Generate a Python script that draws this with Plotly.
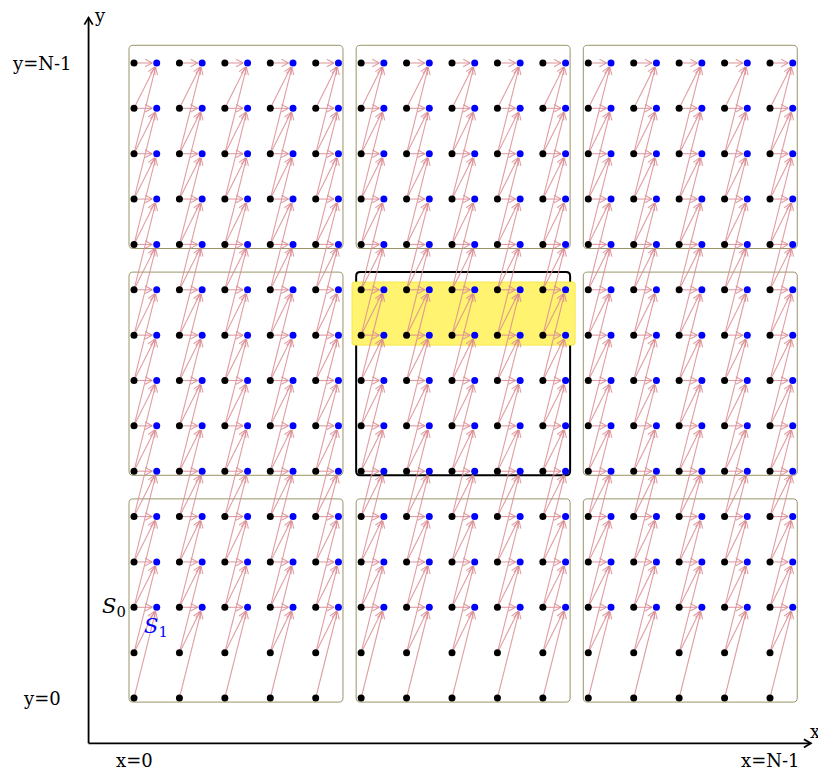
import numpy as np
import plotly.graph_objects as go

# ---- data (grid structure) ----
n_blocks = 3
block_size = 5
grid_cols = list(range(15))          # x index 0 .. N-1
grid_rows = list(range(15))          # y index 0 .. N-1
blue_offset = 0.5                    # S1 points sit half a step to the right
first_blue_row = 2                   # S1 exists from row 2 upward
stencil_offsets = [0, 1, 2]          # each S1 point depends on rows j, j-1, j-2
highlight_block = (1, 1)             # centre block
highlight_rows = [8, 9]              # highlighted rows inside the centre block
axis_labels_y = ["y=0", "y=N-1"]
axis_labels_x = ["x=0", "x=N-1"]

# ---- layout / scale ----
W, H = 818, 771
SX = (770 - 134) / 14.0
SY = (698 - 63) / 14.0
xr = [(0 - 134) / SX, (W - 134) / SX]
yr = [(698 - H) / SY, (698 - 0) / SY]

ARROW_COL = "rgba(218,140,146,0.85)"
FONT = "DejaVu Serif"

fig = go.Figure()

def rounded_rect(x0, y0, x1, y1, r=0.09):
    ry = r * SX / SY
    return (f"M {x0+r},{y0} L {x1-r},{y0} Q {x1},{y0} {x1},{y0+ry} "
            f"L {x1},{y1-ry} Q {x1},{y1} {x1-r},{y1} L {x0+r},{y1} "
            f"Q {x0},{y1} {x0},{y1-ry} L {x0},{y0+ry} Q {x0},{y0} {x0+r},{y0} Z")

shapes = []
for bx in range(n_blocks):
    for by in range(n_blocks):
        i0 = bx * block_size
        j0 = by * block_size
        x0, x1 = i0 - 0.11, i0 + block_size - 1 + blue_offset + 0.1
        y0, y1 = j0 - 0.09, j0 + block_size - 1 + 0.39
        centre = (bx, by) == highlight_block
        shapes.append(dict(type="path", path=rounded_rect(x0, y0, x1, y1),
                           line=dict(color="black" if centre else "#9b9468",
                                     width=2 if centre else 1),
                           layer="below"))
# yellow highlight
hi0 = highlight_block[0] * block_size
shapes.append(dict(type="path",
                   path=rounded_rect(hi0 - 0.2, min(highlight_rows) - 0.22,
                                     hi0 + block_size - 1 + blue_offset + 0.21,
                                     max(highlight_rows) + 0.17, r=0.05),
                   fillcolor="#fff370", line=dict(color="#f5e64a", width=1),
                   layer="below"))

# ---- arrows ----
def to_px(dx, dy):
    return dx * SX, dy * SY

sh_x, sh_y, hd_x, hd_y = [], [], [], []
shorten = 4.5
head_len, head_ang = 8.0, np.deg2rad(28)
for i in grid_cols:
    for j in grid_rows:
        if j < first_blue_row:
            continue
        tx, ty = i + blue_offset, j
        for d in stencil_offsets:
            sx, sy = i, j - d
            px, py = to_px(tx - sx, ty - sy)
            L = np.hypot(px, py)
            ux, uy = px / L, py / L
            tipx = tx - shorten * ux / SX
            tipy = ty - shorten * uy / SY
            sh_x += [sx, tipx, None]
            sh_y += [sy, tipy, None]
            for s in (1, -1):
                ca, sa = np.cos(s * head_ang), np.sin(s * head_ang)
                rx = ux * ca - uy * sa
                ry = ux * sa + uy * ca
                hd_x += [tipx - head_len * rx / SX, tipx, None]
                hd_y += [tipy - head_len * ry / SY, tipy, None]

fig.add_trace(go.Scatter(x=sh_x, y=sh_y, mode="lines",
                         line=dict(color=ARROW_COL, width=1.1), hoverinfo="skip"))
fig.add_trace(go.Scatter(x=hd_x, y=hd_y, mode="lines",
                         line=dict(color=ARROW_COL, width=1.1), hoverinfo="skip"))

# ---- points ----
bx_pts = [i for i in grid_cols for j in grid_rows]
by_pts = [j for i in grid_cols for j in grid_rows]
fig.add_trace(go.Scatter(x=bx_pts, y=by_pts, mode="markers",
                         marker=dict(color="black", size=7), hoverinfo="skip"))
bl_x = [i + blue_offset for i in grid_cols for j in grid_rows if j >= first_blue_row]
bl_y = [j for i in grid_cols for j in grid_rows if j >= first_blue_row]
fig.add_trace(go.Scatter(x=bl_x, y=bl_y, mode="markers",
                         marker=dict(color="blue", size=7), hoverinfo="skip"))

# ---- axes ----
ax0 = -1.0
ytop = grid_rows[-1] + 1.0
xend = grid_cols[-1] + 0.9
fig.add_trace(go.Scatter(x=[ax0, ax0, None, ax0, xend], y=[ytop, ax0, None, ax0, ax0],
                         mode="lines", line=dict(color="black", width=1.8),
                         hoverinfo="skip"))
ah = 7.0
fig.add_trace(go.Scatter(
    x=[ax0 - ah * 0.6 / SX, ax0, ax0 + ah * 0.6 / SX, None,
       xend - ah / SX, xend, xend - ah / SX],
    y=[ytop - ah / SY, ytop, ytop - ah / SY, None,
       ax0 + ah * 0.6 / SY, ax0, ax0 - ah * 0.6 / SY],
    mode="lines", line=dict(color="black", width=1.8), hoverinfo="skip"))

ann = []
def txt(x, y, t, size=18, color="black", xanchor="center"):
    ann.append(dict(x=x, y=y, xref="x", yref="y", text=t, showarrow=False,
                    font=dict(family=FONT, size=size, color=color),
                    xanchor=xanchor, yanchor="middle"))

txt((42 - 134) / SX, grid_rows[0], axis_labels_y[0])
txt((42 - 134) / SX, grid_rows[-1], axis_labels_y[1])
txt(grid_cols[0], (698 - 760) / SY, axis_labels_x[0])
txt(grid_cols[-1], (698 - 760) / SY, axis_labels_x[1])
txt(ax0 + 3 / SX, (698 - 15) / SY, "y", xanchor="left")
txt(xend - 3 / SX, (698 - 731) / SY, "x", xanchor="left")
txt((114 - 134) / SX, first_blue_row, "<i>S</i><sub>0</sub>", size=21)
txt((156 - 134) / SX, first_blue_row - 20 / SY, "<i>S</i><sub>1</sub>", size=21, color="blue")

fig.update_layout(
    width=W, height=H, margin=dict(l=0, r=0, t=0, b=0),
    paper_bgcolor="white", plot_bgcolor="white", showlegend=False,
    xaxis=dict(range=xr, visible=False, fixedrange=True),
    yaxis=dict(range=yr, visible=False, fixedrange=True),
    shapes=shapes, annotations=ann,
)
fig.write_html("out.html")
